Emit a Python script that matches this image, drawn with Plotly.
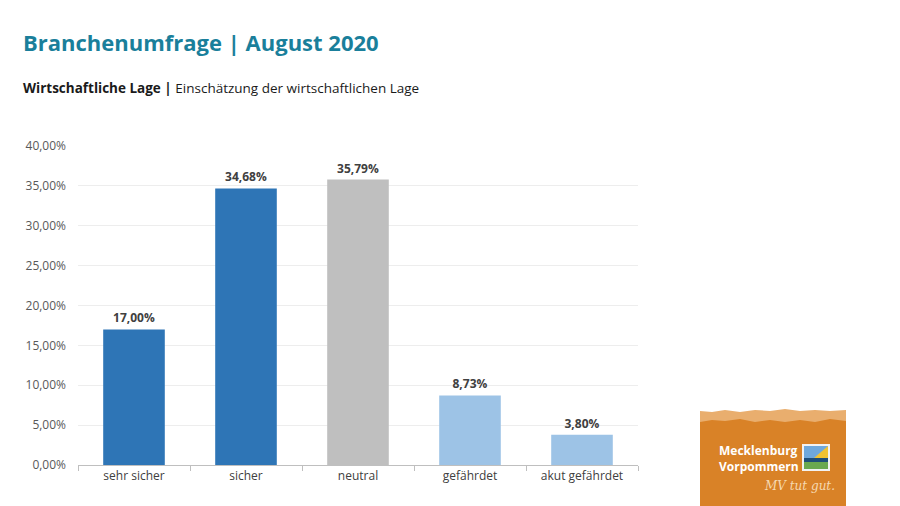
import plotly.graph_objects as go

categories = ["sehr sicher", "sicher", "neutral", "gefährdet", "akut gefährdet"]
values = [17.00, 34.68, 35.79, 8.73, 3.80]
bar_colors = ["#2E75B6", "#2E75B6", "#BFBFBF", "#9DC3E6", "#9DC3E6"]
tick_vals = [0, 5, 10, 15, 20, 25, 30, 35, 40]
tick_text = ["0,00%", "5,00%", "10,00%", "15,00%", "20,00%", "25,00%", "30,00%", "35,00%", "40,00%"]
bar_labels = [f"{v:.2f}%".replace(".", ",") for v in values]

FONT = "Open Sans"

fig = go.Figure()
fig.add_trace(go.Bar(
    x=categories, y=values, marker=dict(color=bar_colors, line=dict(width=0)),
    width=0.55, text=bar_labels, textposition="outside",
    textfont=dict(family=FONT, size=12, color="#404040", weight="bold"),
    cliponaxis=False, hoverinfo="skip",
))

fig.update_layout(
    width=900, height=506,
    margin=dict(l=78, r=262, t=146, b=41),
    paper_bgcolor="white", plot_bgcolor="white",
    showlegend=False, bargap=0.45,
    font=dict(family=FONT, color="#595959"),
    xaxis=dict(
        showgrid=False, showline=True, linecolor="#BFBFBF", linewidth=1,
        ticks="outside", tickson="boundaries", ticklen=5, tickcolor="#BFBFBF",
        tickfont=dict(family=FONT, size=12, color="#404040"),
    ),
    yaxis=dict(
        range=[0, 40], tickvals=tick_vals, ticktext=tick_text,
        showgrid=True, gridcolor="#EDEDED", gridwidth=1, zeroline=False,
        tickfont=dict(family=FONT, size=12, color="#595959"), ticklabelstandoff=11,
    ),
)

# Title and subtitle
fig.add_annotation(xref="paper", yref="paper", x=(21 - 78) / 560, y=1 + (146 - 42) / 319,
                   xanchor="left", yanchor="middle", showarrow=False,
                   text="<b>Branchenumfrage | August 2020</b>",
                   font=dict(family=FONT, size=22, color="#1A7F9B"))
fig.add_annotation(xref="paper", yref="paper", x=(21 - 78) / 560, y=1 + (146 - 88) / 319,
                   xanchor="left", yanchor="middle", showarrow=False,
                   text="<b>Wirtschaftliche Lage |</b> Einschätzung der wirtschaftlichen Lage",
                   font=dict(family=FONT, size=13.5, color="#1a1a1a"))

# Logo (paper coordinates converted from pixels)
def px(x):
    return (x - 78) / 560

def py(y):
    return (465 - y) / 319

fig.add_shape(type="rect", xref="paper", yref="paper",
              x0=px(700), x1=px(846), y0=py(506), y1=py(414),
              fillcolor="#D98227", line=dict(width=0), layer="above")
pts = [(700, 411), (712, 412), (725, 410), (740, 412), (755, 410), (770, 411), (785, 409),
       (800, 411), (815, 410), (830, 411), (846, 410), (846, 421), (830, 419), (815, 422),
       (800, 420), (785, 422), (770, 420), (755, 422), (740, 419), (725, 421), (712, 420), (700, 422)]
path = "M " + " L ".join(f"{px(a)},{py(b)}" for a, b in pts) + " Z"
fig.add_shape(type="path", xref="paper", yref="paper", path=path,
              fillcolor="#E9AE6E", line=dict(width=0), layer="above")
fig.add_annotation(xref="paper", yref="paper", text="<b>Mecklenburg<br>Vorpommern</b>",
                   x=px(717), y=py(458), xanchor="left", yanchor="middle", align="left",
                   showarrow=False, font=dict(family=FONT, size=12, color="white"))
fig.add_annotation(xref="paper", yref="paper", x=px(762), y=py(486), xanchor="left", yanchor="middle",
                   showarrow=False, text="<i>MV tut gut.</i>",
                   font=dict(family="DejaVu Serif", size=12, color="#F6D9B0"))
# flag icon
fig.add_shape(type="rect", xref="paper", yref="paper", x0=px(802), x1=px(830), y0=py(471), y1=py(444),
              fillcolor="#F2F2F2", line=dict(width=0), layer="above")
fig.add_shape(type="rect", xref="paper", yref="paper", x0=px(804), x1=px(828), y0=py(458), y1=py(446),
              fillcolor="#6FA8DC", line=dict(width=0), layer="above")
fig.add_shape(type="path", xref="paper", yref="paper",
              path=f"M {px(814)},{py(458)} L {px(828)},{py(446)} L {px(828)},{py(458)} Z",
              fillcolor="#F1C232", line=dict(width=0), layer="above")
fig.add_shape(type="rect", xref="paper", yref="paper", x0=px(804), x1=px(828), y0=py(462), y1=py(458),
              fillcolor="#1F4E79", line=dict(width=0), layer="above")
fig.add_shape(type="rect", xref="paper", yref="paper", x0=px(804), x1=px(828), y0=py(469), y1=py(462),
              fillcolor="#6AA84F", line=dict(width=0), layer="above")

fig.write_html("out.html")
